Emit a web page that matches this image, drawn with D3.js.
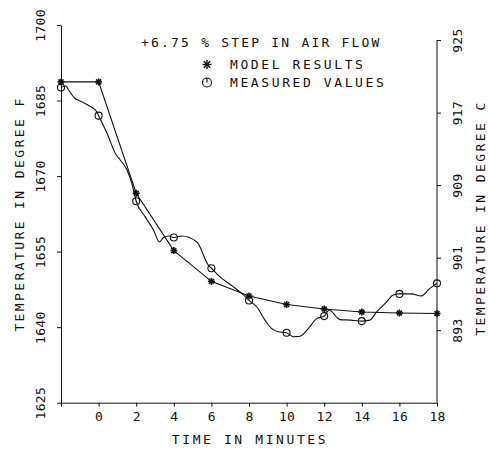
<!DOCTYPE html>
<html>
<head>
<meta charset="utf-8">
<script src="https://cdn.jsdelivr.net/npm/d3@7"></script>
<style>
  body { margin: 0; background: #fff; }
  svg { display: block; }
  text { font-family: "DejaVu Sans Mono", monospace; fill: #111; }
</style>
</head>
<body>
<svg width="489" height="455"></svg>
<script>
// even-minute markers
var markerTimes = [-2, 0, 2, 4, 6, 8, 10, 12, 14, 16, 18];
var modelTemps = [1688.7, 1688.7, 1666.6, 1655.2, 1649.1, 1646.2, 1644.5, 1643.6, 1643.0, 1642.8, 1642.7];
var measuredMarkerTemps = [1687.6, 1682.0, 1665.0, 1657.8, 1651.7, 1645.3, 1638.9, 1642.2, 1641.2, 1646.6, 1648.7];

// measured trace
var traceTimes = [-2, -1.75, -1.61, -1.25, -0.98, -0.53, -0.09, 0, 0.45, 0.89, 1.15, 1.51, 1.77, 2,
    2.48, 2.92, 3.24, 3.45, 3.72, 4, 4.43, 5.23, 5.84, 6, 6.46, 7.17, 7.7, 8,
    8.42, 8.85, 9.21, 9.56, 10, 10.36, 10.71, 11.15, 11.6, 12, 12.27, 12.66, 12.84, 13.4, 14,
    14.43, 14.78, 15.32, 15.67, 16, 16.64, 17.17, 17.62, 18];
var traceTemps = [1687.6, 1687.9, 1687.2, 1685.4, 1684.9, 1684.0, 1682.7, 1682.0, 1678.5, 1674.5, 1673.2, 1671.2, 1668.5, 1665.0,
    1661.9, 1659.3, 1656.9, 1657.8, 1658.1, 1657.8, 1658.1, 1656.9, 1652.3, 1651.7, 1650.0, 1648.0, 1646.4, 1645.3,
    1644.0, 1641.4, 1639.7, 1639.1, 1638.9, 1638.1, 1638.2, 1639.7, 1641.7, 1642.2, 1643.4, 1642.0, 1641.5, 1641.4, 1641.2,
    1641.4, 1643.0, 1645.0, 1646.4, 1646.6, 1646.6, 1646.2, 1647.7, 1648.7];

var ticksF = [1625, 1640, 1655, 1670, 1685, 1700];
var ticksC = [893, 901, 909, 917, 925];
var ticksT = [-2, 0, 2, 4, 6, 8, 10, 12, 14, 16, 18];

var titleText = "+6.75 % STEP IN AIR FLOW";
var legendText = ["MODEL RESULTS", "MEASURED VALUES"];

var svg = d3.select('svg');

var scaleX = d3.scaleLinear().domain([-2, 18]).range([61, 437]);
var scaleY = d3.scaleLinear().domain([1625, 1700]).range([402.7, 25]);
var toC = function(f){ return (f - 32) * 5 / 9; };
var scaleC = d3.scaleLinear().domain([toC(1625), toC(1700)]).range([402.7, 25]);

// left axis
var gLeft = svg.append('g')
    .attr('transform', 'translate(61,0)')
    .call(d3.axisLeft(scaleY).tickValues(ticksF).tickSize(4).tickSizeOuter(0).tickFormat(d3.format('d')));
gLeft.selectAll('text')
    .attr('x', null).attr('dy', null)
    .attr('transform', 'translate(-16,0) rotate(-90)')
    .attr('text-anchor', 'middle')
    .attr('font-size', 13)
    .attr('letter-spacing', 0.3);

// right axis
var gRight = svg.append('g')
    .attr('transform', 'translate(437,0)')
    .call(d3.axisRight(scaleC).tickValues(ticksC).tickSize(4).tickSizeOuter(0));
gRight.select('.domain').remove();
gRight.append('line')
    .attr('y1', scaleC(925)).attr('y2', scaleC(toC(1625)))
    .attr('stroke', '#111');
gRight.selectAll('text')
    .attr('x', null).attr('dy', null)
    .attr('transform', 'translate(25,0) rotate(-90)')
    .attr('text-anchor', 'middle')
    .attr('font-size', 13)
    .attr('letter-spacing', 0.3);

// bottom axis
var gBottom = svg.append('g')
    .attr('transform', 'translate(0,402.7)')
    .call(d3.axisBottom(scaleX).tickValues(ticksT).tickSize(4).tickSizeOuter(0)
        .tickFormat(function(d){ return d < 0 ? '' : d; }));
gBottom.selectAll('text')
    .attr('y', 18)
    .attr('dy', null)
    .attr('font-size', 13)
    .attr('letter-spacing', 0.3);

svg.selectAll('.domain, .tick line').attr('stroke', '#111');
svg.selectAll('.tick text').attr('fill', '#111').style('font-family', '"DejaVu Sans Mono", monospace');

// axis titles
svg.append('text')
    .text('TEMPERATURE IN DEGREE F')
    .attr('transform', 'translate(24,214) rotate(-90)')
    .attr('text-anchor', 'middle')
    .attr('font-size', 13)
    .attr('letter-spacing', 2.4);

svg.append('text')
    .text('TEMPERATURE IN DEGREE C')
    .attr('transform', 'translate(485,218) rotate(-90)')
    .attr('text-anchor', 'middle')
    .attr('font-size', 13)
    .attr('letter-spacing', 2.4);

svg.append('text')
    .text('TIME IN MINUTES')
    .attr('x', 250).attr('y', 444)
    .attr('text-anchor', 'middle')
    .attr('font-size', 13)
    .attr('letter-spacing', 2.6);

// title and legend
svg.append('text')
    .text(titleText)
    .attr('x', 141).attr('y', 47)
    .attr('font-size', 13)
    .attr('letter-spacing', 2.2);

function asterisk(g, cx, cy, r, w){
    var a = [0, 45, 90, 135];
    a.forEach(function(deg){
        var rad = deg * Math.PI / 180;
        g.append('line')
            .attr('x1', cx - r * Math.cos(rad)).attr('y1', cy - r * Math.sin(rad))
            .attr('x2', cx + r * Math.cos(rad)).attr('y2', cy + r * Math.sin(rad))
            .attr('stroke', '#111').attr('stroke-width', w);
    });
}

var legend = svg.append('g');
legend.selectAll('text')
    .data(legendText)
    .enter()
    .append('text')
    .text(function(d){ return d; })
    .attr('x', 230)
    .attr('y', function(d, i){ return 69 + i * 18; })
    .attr('font-size', 13)
    .attr('letter-spacing', 2.6);
asterisk(legend, 207, 64.5, 4.5, 1.4);
legend.append('circle')
    .attr('cx', 207).attr('cy', 82.5).attr('r', 4.5)
    .attr('fill', 'none').attr('stroke', '#111').attr('stroke-width', 1.2);
legend.append('line')
    .attr('x1', 207).attr('x2', 207).attr('y1', 78).attr('y2', 82.5)
    .attr('stroke', '#111').attr('stroke-width', 1.2);

// lines
var modelLine = d3.line()
    .x(function(d, i){ return scaleX(markerTimes[i]); })
    .y(function(d){ return scaleY(d); });
svg.append('path')
    .datum(modelTemps)
    .attr('d', modelLine)
    .attr('fill', 'none')
    .attr('stroke', '#111')
    .attr('stroke-width', 1.1);

var traceLine = d3.line()
    .x(function(d, i){ return scaleX(traceTimes[i]); })
    .y(function(d){ return scaleY(d); })
    .curve(d3.curveMonotoneX);
svg.append('path')
    .datum(traceTemps)
    .attr('d', traceLine)
    .attr('fill', 'none')
    .attr('stroke', '#111')
    .attr('stroke-width', 1.1);

// markers
var gModel = svg.append('g');
modelTemps.forEach(function(d, i){
    asterisk(gModel, scaleX(markerTimes[i]), scaleY(d), 3.5, 1.6);
});

svg.selectAll('circle.measured')
    .data(measuredMarkerTemps)
    .enter()
    .append('circle')
    .attr('class', 'measured')
    .attr('cx', function(d, i){ return scaleX(markerTimes[i]); })
    .attr('cy', function(d){ return scaleY(d); })
    .attr('r', 3.5)
    .attr('fill', 'none')
    .attr('stroke', '#111')
    .attr('stroke-width', 1.1);
</script>
</body>
</html>
